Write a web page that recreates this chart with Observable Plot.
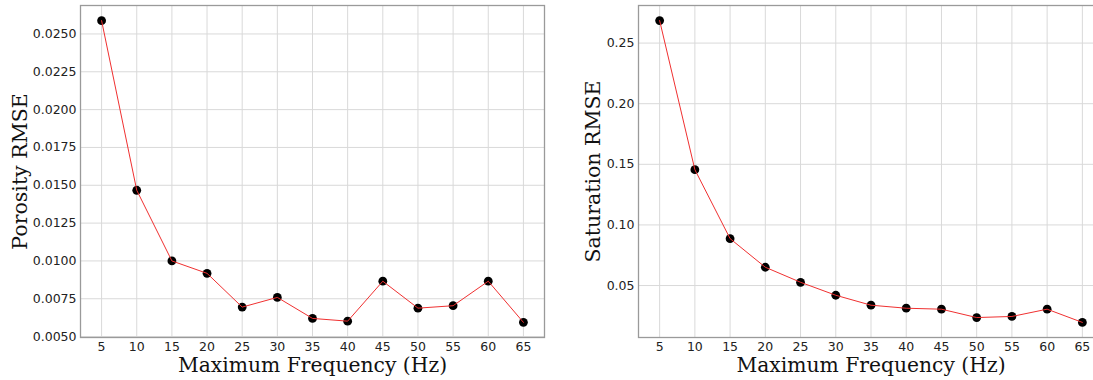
<!DOCTYPE html>
<html>
<head>
<meta charset="utf-8">
<script src="https://cdn.jsdelivr.net/npm/d3@7"></script>
<script src="https://cdn.jsdelivr.net/npm/@observablehq/plot@0.6"></script>
<style>
  html, body { margin: 0; padding: 0; background: #fff; overflow: hidden; }
  #wrap { position: relative; width: 1093px; height: 380px; overflow: hidden; }
  #wrap svg { position: absolute; top: 0; }
</style>
</head>
<body>
<div id="wrap"></div>
<script>
// ---- data ----
const freqs = [5, 10, 15, 20, 25, 30, 35, 40, 45, 50, 55, 60, 65];
const porosityRmse = [0.02588, 0.01467, 0.01000, 0.00918, 0.00695, 0.00759, 0.00620, 0.00602, 0.00866, 0.00688, 0.00704, 0.00866, 0.00594];
const saturationRmse = [0.2686, 0.1456, 0.0887, 0.0651, 0.0527, 0.0420, 0.0338, 0.0313, 0.0305, 0.0236, 0.0245, 0.0305, 0.0196];
const xTicks = [5, 10, 15, 20, 25, 30, 35, 40, 45, 50, 55, 60, 65];
const porosityTicks = [0.0050, 0.0075, 0.0100, 0.0125, 0.0150, 0.0175, 0.0200, 0.0225, 0.0250];
const saturationTicks = [0.05, 0.10, 0.15, 0.20, 0.25];
const xLabel = "Maximum Frequency (Hz)";
const porosityLabel = "Porosity RMSE";
const saturationLabel = "Saturation RMSE";

function panel({values, yTicks, yFormat, yDomain, yLabel, labelDx, width, marginLeft, marginRight}) {
  const rows = freqs.map((f, i) => ({f, v: values[i]}));
  return Plot.plot({
    width, height: 380,
    marginLeft, marginRight, marginTop: 5, marginBottom: 43,
    style: {fontFamily: "DejaVu Sans", fontSize: "12.5px", color: "#222", background: "transparent"},
    x: {domain: [2, 68]},
    y: {domain: yDomain},
    marks: [
      Plot.gridX(xTicks, {stroke: "#d9d9d9", strokeOpacity: 1, strokeWidth: 1}),
      Plot.gridY(yTicks, {stroke: "#d9d9d9", strokeOpacity: 1, strokeWidth: 1}),
      Plot.axisX({ticks: xTicks, tickSize: 0, tickPadding: 5, label: null, fontSize: 12.5}),
      Plot.axisY({ticks: yTicks, tickSize: 0, tickPadding: 4, label: null, tickFormat: d3.format(yFormat), fontSize: 12.5}),
      Plot.dot(rows, {x: "f", y: "v", r: 4.4, fill: "#000", stroke: "none"}),
      Plot.line(rows, {x: "f", y: "v", stroke: "#f03030", strokeWidth: 1}),
      Plot.frame({stroke: "#9a9a9a", strokeWidth: 1.3}),
      Plot.text([xLabel], {text: d => d, frameAnchor: "bottom", dy: 28, lineAnchor: "middle", textAnchor: "middle",
        fontFamily: "DejaVu Serif", fontSize: 20.3, fill: "#111"}),
      Plot.text([yLabel], {text: d => d, frameAnchor: "left", dx: labelDx, rotate: -90, lineAnchor: "middle", textAnchor: "middle",
        fontFamily: "DejaVu Serif", fontSize: 20.5, fill: "#111"})
    ]
  });
}

const wrap = document.getElementById("wrap");
const left = panel({
  values: porosityRmse, yTicks: porosityTicks, yFormat: ".4f", yDomain: [0.00494, 0.02688],
  yLabel: porosityLabel, labelDx: -60, width: 560, marginLeft: 80, marginRight: 16
});
left.style.left = "0px";
const right = panel({
  values: saturationRmse, yTicks: saturationTicks, yFormat: ".2f", yDomain: [0.00715, 0.2810],
  yLabel: saturationLabel, labelDx: -45, width: 560, marginLeft: 78, marginRight: 17
});
right.style.left = "560px";
wrap.appendChild(left);
wrap.appendChild(right);
</script>
</body>
</html>
